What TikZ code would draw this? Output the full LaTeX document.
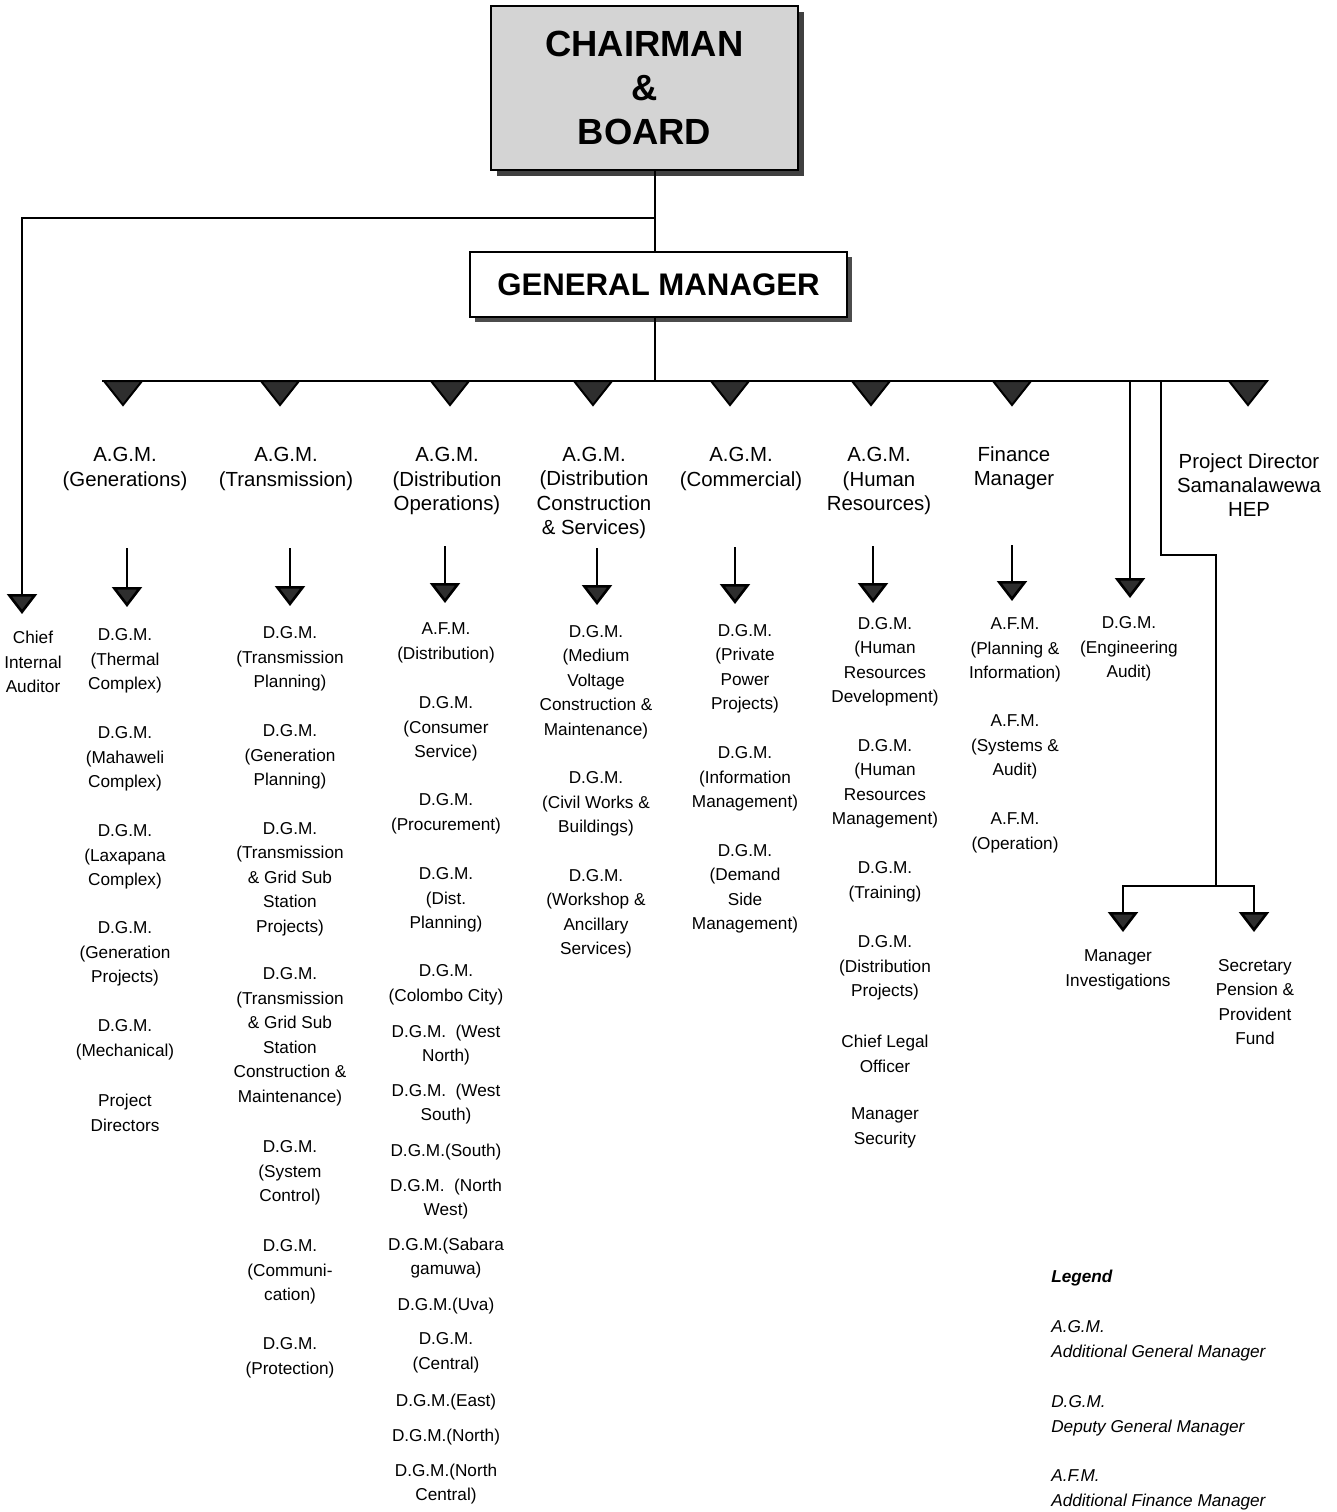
\documentclass[tikz,border=0pt]{standalone}
\usepackage{fontspec}
\setmainfont{Liberation Sans}
\usetikzlibrary{arrows.meta,shadows,calc}
\begin{document}
\begin{tikzpicture}[x=0.5pt,y=-0.5pt, line width=1.3pt,
 body/.style={font=\fontsize{8.6}{12.25}\selectfont, align=center, inner sep=0pt},
 head/.style={font=\fontsize{10.2}{12.1}\selectfont, align=center, inner sep=0pt},
 leg/.style={font=\fontsize{8.6}{12.25}\selectfont\itshape, align=left, anchor=west, inner sep=0pt},
 tip/.style={-{Triangle[length=10pt,width=15pt,fill=black!82]}},
 bustri/.pic={\draw[fill=black!82, line width=1pt] (-19,0) -- (19,0) -- (0,24) -- cycle;},
 topbox/.style={draw, line width=1pt, fill=black!17, minimum width=153.5pt, minimum height=82pt, inner sep=0pt,
   drop shadow={shadow xshift=3pt, shadow yshift=-3pt, fill=black!75, opacity=1}},
 gmbox/.style={draw, line width=1pt, fill=white, minimum width=188.5pt, minimum height=32.5pt, inner sep=0pt,
   drop shadow={shadow xshift=2.5pt, shadow yshift=-2.5pt, fill=black!70, opacity=1}}
]
\useasboundingbox[fill=white] (0,0) rectangle (1337,1512);

% top boxes
\node[topbox, align=center, font=\fontsize{18.2}{22}\selectfont\bfseries] (ch) at (644.5,88) {CHAIRMAN\\\&\\BOARD};
\node[gmbox, font=\fontsize{15.6}{18}\selectfont\bfseries] (gm) at (658.5,284.5) {GENERAL MANAGER};

% junctions
\coordinate (j1) at (655,218);
\coordinate (j2) at (655,381);
\coordinate (busL) at (102,381);
\coordinate (busR) at (1268,381);
\draw (ch.south -| j1) -- (gm.north -| j1);
\draw (gm.south -| j1) -- (j2);
\draw (busL) -- (busR);

% chief internal auditor branch
\coordinate (aude) at (22,614);
\draw[tip] (j1) -| (aude);

% bus triangles
\foreach \xx in {123,280,450,593,730,871,1012,1248}{
  \pic at (\xx,381) {bustri};
}

% engineering audit branch
\coordinate (ea1) at (1130,381);
\coordinate (ea2) at (1130,598);
\draw[tip] (ea1) -- (ea2);

% investigations / pension branch
\coordinate (b1) at (1161,381);
\coordinate (b2) at (1216,555);
\coordinate (b3) at (1216,886);
\coordinate (mie) at (1123,932);
\coordinate (spe) at (1254,932);
\draw (b1) |- (b2) -- (b3);
\draw[tip] (b3) -| (mie);
\draw[tip] (b3) -| (spe);

% column arrows
\foreach \nm/\xx/\ya/\yb in {c1/127/548/607, c2/290/548/606, c3/445/546/603, c4/597/548/605, c5/735/547/604, c6/873/546/603, c7/1012/545/601}{
  \coordinate (\nm s) at (\xx,\ya);
  \coordinate (\nm e) at (\xx,\yb);
  \draw[tip] (\nm s) -- (\nm e);
}

% headers
\node[head] (h1) at (125,469) {A.G.M.\\(Generations)};
\node[head] (h2) at (286,469) {A.G.M.\\(Transmission)};
\node[head] (h3) at (447,481) {A.G.M.\\(Distribution\\Operations)};
\node[head] (h4) at (594,493) {A.G.M.\\(Distribution\\Construction\\\& Services)};
\node[head] (h5) at (741,469) {A.G.M.\\(Commercial)};
\node[head] (h6) at (879,481) {A.G.M.\\(Human\\Resources)};
\node[head] (h7) at (1014,468) {Finance\\Manager};
\node[head] (pd) at (1249,485) {Project Director\\Samanalawewa\\HEP};

% chief internal auditor
\node[body] (cia) at (33,662) {Chief\\Internal\\Auditor};

% column 1
\node[body] (g1) at (125,661) {D.G.M.\\(Thermal\\Complex)};
\node[body] (g2) at (125,759) {D.G.M.\\(Mahaweli\\Complex)};
\node[body] (g3) at (125,857) {D.G.M.\\(Laxapana\\Complex)};
\node[body] (g4) at (125,954) {D.G.M.\\(Generation\\Projects)};
\node[body] (g5) at (125,1040) {D.G.M.\\(Mechanical)};
\node[body] (g6) at (125,1113) {Project\\Directors};

% column 2
\node[body] (t1) at (290,659) {D.G.M.\\(Transmission\\Planning)};
\node[body] (t2) at (290,757) {D.G.M.\\(Generation\\Planning)};
\node[body] (t3) at (290,879) {D.G.M.\\(Transmission\\\& Grid Sub\\Station\\Projects)};
\node[body] (t4) at (290,1037) {D.G.M.\\(Transmission\\\& Grid Sub\\Station\\Construction \&\\Maintenance)};
\node[body] (t5) at (290,1173) {D.G.M.\\(System\\Control)};
\node[body] (t6) at (290,1272) {D.G.M.\\(Communi-\\cation)};
\node[body] (t7) at (290,1358) {D.G.M.\\(Protection)};

% column 3
\node[body] (o1) at (446,643) {A.F.M.\\(Distribution)};
\node[body] (o2) at (446,729) {D.G.M.\\(Consumer\\Service)};
\node[body] (o3) at (446,814) {D.G.M.\\(Procurement)};
\node[body] (o4) at (446,900) {D.G.M.\\(Dist.\\Planning)};
\node[body] (o5) at (446,985) {D.G.M.\\(Colombo City)};
\node[body] (o6) at (446,1045) {D.G.M.~~(West\\North)};
\node[body] (o7) at (446,1104) {D.G.M.~~(West\\South)};
\node[body] (o8) at (446,1152) {D.G.M.(South)};
\node[body] (o9) at (446,1199) {D.G.M.~~(North\\West)};
\node[body] (o10) at (446,1258) {D.G.M.(Sabara\\gamuwa)};
\node[body] (o11) at (446,1306) {D.G.M.(Uva)};
\node[body] (o12) at (446,1353) {D.G.M.\\(Central)};
\node[body] (o13) at (446,1402) {D.G.M.(East)};
\node[body] (o14) at (446,1437) {D.G.M.(North)};
\node[body] (o15) at (446,1484) {D.G.M.(North\\Central)};

% column 4
\node[body] (d1) at (596,682) {D.G.M.\\(Medium\\Voltage\\Construction \&\\Maintenance)};
\node[body] (d2) at (596,804) {D.G.M.\\(Civil Works \&\\Buildings)};
\node[body] (d3) at (596,914) {D.G.M.\\(Workshop \&\\Ancillary\\Services)};

% column 5
\node[body] (m1) at (745,669) {D.G.M.\\(Private\\Power\\Projects)};
\node[body] (m2) at (745,779) {D.G.M.\\(Information\\Management)};
\node[body] (m3) at (745,889) {D.G.M.\\(Demand\\Side\\Management)};

% column 6
\node[body] (r1) at (885,662) {D.G.M.\\(Human\\Resources\\Development)};
\node[body] (r2) at (885,784) {D.G.M.\\(Human\\Resources\\Management)};
\node[body] (r3) at (885,882) {D.G.M.\\(Training)};
\node[body] (r4) at (885,968) {D.G.M.\\(Distribution\\Projects)};
\node[body] (r5) at (885,1054) {Chief Legal\\Officer};
\node[body] (r6) at (885,1128) {Manager\\Security};

% column 7
\node[body] (f1) at (1015,650) {A.F.M.\\(Planning \&\\Information)};
\node[body] (f2) at (1015,747) {A.F.M.\\(Systems \&\\Audit)};
\node[body] (f3) at (1015,833) {A.F.M.\\(Operation)};

% right side
\node[body] (ea) at (1129,649) {D.G.M.\\(Engineering\\Audit)};
\node[body] (mi) at (1118,970) {Manager\\Investigations};
\node[body] (sp) at (1255,1002) {Secretary\\Pension \&\\Provident\\Fund};

% legend
\node[leg, font=\fontsize{8.6}{12.25}\selectfont\itshape\bfseries] (lg) at (1050,1278) {Legend};
\node[leg] (l1) at (1050,1341) {A.G.M.\\Additional General Manager};
\node[leg] (l2) at (1050,1416) {D.G.M.\\Deputy General Manager};
\node[leg] (l3) at (1050,1490) {A.F.M.\\Additional Finance Manager};
\end{tikzpicture}
\end{document}
